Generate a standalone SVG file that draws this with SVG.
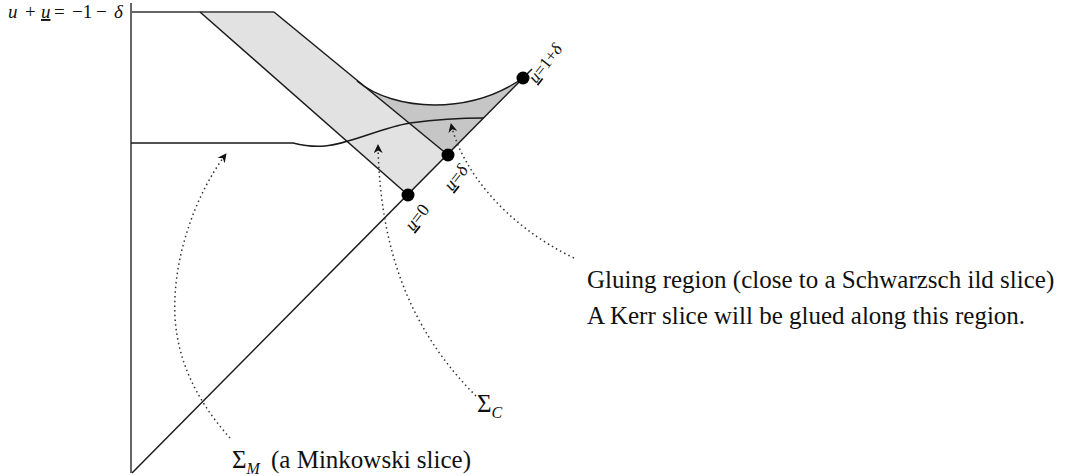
<svg xmlns="http://www.w3.org/2000/svg" width="1066" height="476" viewBox="0 0 1066 476">
<style>
.bd{fill:none;stroke:#666;stroke-width:2}
.ln{fill:none;stroke:#1a1a1a;stroke-width:1.5}
.dot{fill:#000}
.dt{fill:none;stroke:#333;stroke-width:1.5;stroke-dasharray:1.5 3.2}
.t{font-family:"Liberation Serif","Times New Roman",serif;fill:#111}
.it{font-style:italic}
.ul{text-decoration:underline}
</style>
<defs>
<marker id="ah" viewBox="0 0 10 10" refX="9" refY="5" markerWidth="9" markerHeight="9" markerUnits="userSpaceOnUse" orient="auto">
<path d="M0,0 L10,5 L0,10 L3,5 z" fill="#111"/>
</marker>
</defs>
<rect width="1066" height="476" fill="#fff"/>

<g id="strip">
<path d="M200,12 L274,12 L448,155 L408,195 Z" fill="#e2e2e2"/>
</g>
<g id="gluing-region">
<path d="M357,81 C395,112 470,115 523,78 L448,155 Z" fill="#c6c6c6"/>
<path class="ln" d="M357,81 C395,112 470,115 523,78"/>
</g>
<g id="boundary">
<path class="bd" d="M131,3 L131,473"/>
<path class="bd" d="M131,12 L274,12"/>
<path class="ln" d="M132,473 L532,69"/>
<path class="ln" d="M200,12 L408,195"/>
<path class="ln" d="M274,12 L448,155"/>
</g>
<g id="slice">
<path class="ln" d="M131,143 L293,143 C305,146 315,147 325,146 C350,144 380,128 410,123 C440,119 465,118 484,118"/>
</g>
<g id="points">
<circle class="dot" cx="408" cy="195" r="6.5"/>
<circle class="dot" cx="448" cy="155" r="6.5"/>
<circle class="dot" cx="523" cy="78" r="6.5"/>
</g>

<g id="connectors">
<path class="dt" d="M230,438 C205,410 178,370 175,317 C172,260 195,195 226,154" marker-end="url(#ah)"/>
<path class="dt" d="M476,396 C410,330 380,250 378,145" marker-end="url(#ah)"/>
<path class="dt" d="M574,258 C505,225 462,170 451,124" marker-end="url(#ah)"/>
</g>

<g id="label-top">
<text class="t" font-size="19" y="18"><tspan class="it" x="8">u</tspan><tspan x="25">+</tspan><tspan class="it ul" x="41">u</tspan><tspan x="54">=</tspan><tspan x="72">−1</tspan><tspan x="96">−</tspan><tspan class="it" x="114">δ</tspan></text>
</g>
<g id="label-u0">
<text class="t" font-size="18" transform="translate(413,232) rotate(-52)"><tspan class="it ul">u</tspan>=0</text>
</g>
<g id="label-ud">
<text class="t" font-size="18" transform="translate(452,192) rotate(-52)"><tspan class="it ul">u</tspan>=<tspan class="it">δ</tspan></text>
</g>
<g id="label-u1">
<text class="t" font-size="17" transform="translate(536,84) rotate(-52)"><tspan class="it ul">u</tspan>=1+<tspan class="it">δ</tspan></text>
</g>
<g id="label-gluing">
<text class="t" font-size="25" x="587" y="288">Gluing region (close to a Schwarzsch ild slice)</text>
<text class="t" font-size="25" x="587" y="324">A Kerr slice will be glued along this region.</text>
</g>
<g id="label-sigma-c">
<text class="t" font-size="25" x="477" y="412">Σ<tspan class="it" font-size="16" dy="6">C</tspan></text>
</g>
<g id="label-sigma-m">
<text class="t" font-size="25" x="232" y="468">Σ<tspan class="it" font-size="16" dy="6">M</tspan><tspan font-size="25" dy="-6" x="271">(a Minkowski slice)</tspan></text>
</g>
</svg>
